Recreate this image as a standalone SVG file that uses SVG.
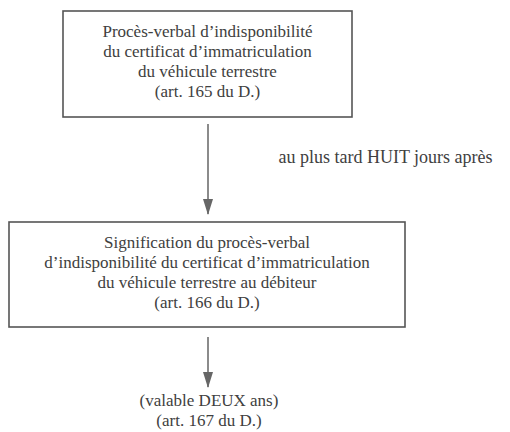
<svg xmlns="http://www.w3.org/2000/svg" width="510" height="432" viewBox="0 0 510 432">
<style>
text{font-family:'Liberation Serif','Times New Roman',serif;font-size:17px;fill:#404040;text-anchor:middle}
.lbl{font-size:18px}
.box{fill:#fff;stroke:#555;stroke-width:1.6}
.conn{stroke:#5a5a5a;stroke-width:1.4;fill:none}
</style>
<defs>
<marker id="ah" markerWidth="16" markerHeight="10" refX="15" refY="5" orient="auto" markerUnits="userSpaceOnUse" viewBox="0 0 16 10">
<path d="M0,0 L16,5 L0,10 Z" fill="#666"/>
</marker>
</defs>
<rect width="510" height="432" fill="#fff"/>
<g id="node-pv">
<rect class="box" x="63" y="11" width="289" height="106"/>
<text x="207.5" y="37">Procès-verbal d’indisponibilité</text>
<text x="207.5" y="57">du certificat d’immatriculation</text>
<text x="207.5" y="77">du véhicule terrestre</text>
<text x="207.5" y="97">(art. 165 du D.)</text>
</g>
<g id="node-signification">
<rect class="box" x="9" y="222" width="396" height="105"/>
<text x="207" y="248">Signification du procès-verbal</text>
<text x="207" y="268">d’indisponibilité du certificat d’immatriculation</text>
<text x="207" y="288">du véhicule terrestre au débiteur</text>
<text x="207" y="308">(art. 166 du D.)</text>
</g>
<g id="node-validite">
<text x="209" y="406">(valable DEUX ans)</text>
<text x="209" y="426">(art. 167 du D.)</text>
</g>
<g id="connectors">
<line class="conn" x1="208" y1="124" x2="208" y2="214" marker-end="url(#ah)"/>
<text class="lbl" x="385.5" y="163">au plus tard HUIT jours après</text>
<line class="conn" x1="208" y1="337" x2="208" y2="387" marker-end="url(#ah)"/>
</g>
</svg>
